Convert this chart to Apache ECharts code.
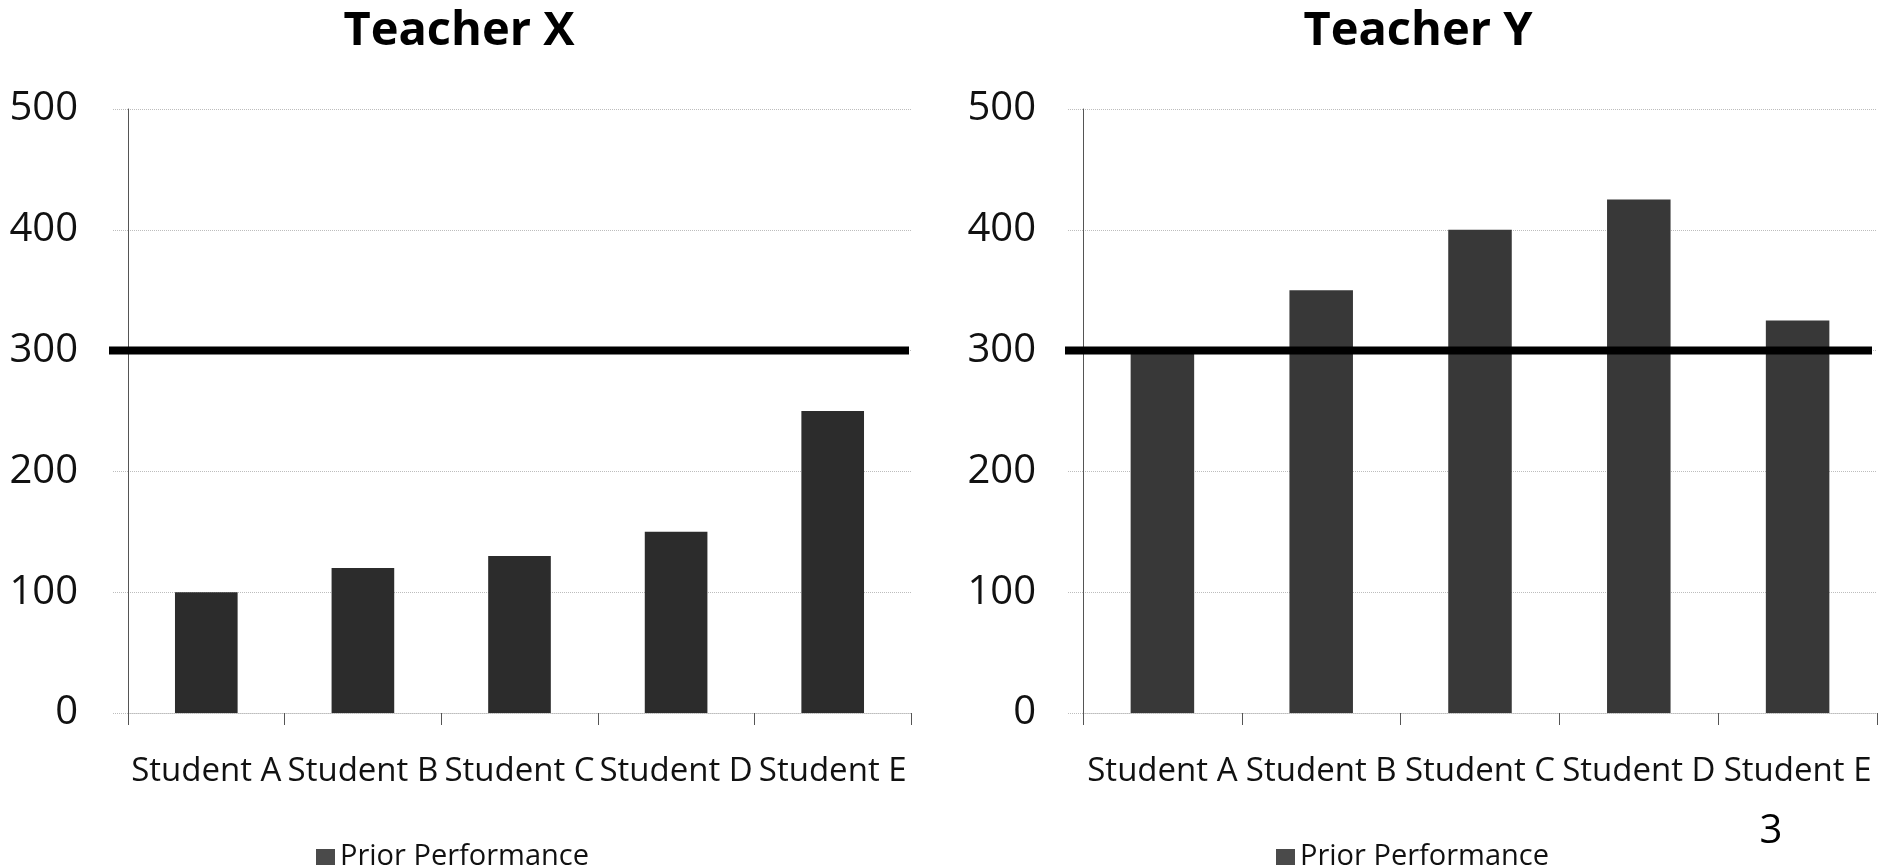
<!DOCTYPE html>
<html>
<head>
<meta charset="utf-8">
<title>Prior Performance by Teacher</title>
<script src="https://cdn.jsdelivr.net/npm/echarts@6/dist/echarts.min.js"></script>
<style>
  html, body { margin: 0; padding: 0; background: #ffffff; }
  #chart { width: 1879px; height: 866px; }
</style>
</head>
<body>
<div id="chart"></div>
<script>
// Student categories shared by both panels
const categories = ['Student A', 'Student B', 'Student C', 'Student D', 'Student E'];

// Prior performance scores per teacher
const teacherXScores = [100, 120, 130, 150, 250];
const teacherYScores = [300, 350, 400, 425, 325];

// Benchmark score drawn as a heavy horizontal rule in each panel
const benchmarkScore = 300;

// Value axis range and step (ticks 0, 100, ... 500)
const yMin = 0;
const yMax = 500;
const yStep = 100;

const panelTitles = ['Teacher X', 'Teacher Y'];
const seriesName = 'Prior Performance';
const pageNumber = '3';

const FONT = '"Open Sans", "Noto Sans", sans-serif';

const chart = echarts.init(document.getElementById('chart'), null, { renderer: 'canvas' });

function valueAxis(gridIndex, margin, visible) {
  return {
    type: 'value',
    gridIndex: gridIndex,
    min: yMin,
    max: yMax,
    interval: yStep,
    show: visible,
    axisLine: { show: true, lineStyle: { color: '#555', width: 1 } },
    axisTick: { show: true, length: 15, lineStyle: { color: '#bdbdbd', type: 'dotted' } },
    axisLabel: { margin: margin, color: '#111', fontFamily: FONT, fontSize: 40 },
    splitLine: { show: true, lineStyle: { color: '#bdbdbd', type: 'dotted', width: 1 } }
  };
}

function categoryAxis(gridIndex) {
  return {
    type: 'category',
    gridIndex: gridIndex,
    data: categories,
    axisLine: { show: true, lineStyle: { color: '#bdbdbd', type: 'dotted' } },
    axisTick: { show: true, length: 12, lineStyle: { color: '#555' } },
    axisLabel: { interval: 0, margin: 42, color: '#111', fontFamily: FONT, fontSize: 33 }
  };
}

// Hidden axes for the benchmark rule, which runs a little past the plot's left edge
function ruleXAxis(gridIndex) {
  return { type: 'value', gridIndex: gridIndex, min: 0, max: 1, show: false };
}

function legendAt(left) {
  return {
    left: left, top: 837,
    itemWidth: 19, itemHeight: 16, itemGap: 10,
    selectedMode: false,
    textStyle: { fontFamily: FONT, fontSize: 29, color: '#111', lineHeight: 30 },
    data: [{ name: seriesName, icon: 'rect', itemStyle: { color: '#4a4a4a' } }]
  };
}

const option = {
  backgroundColor: '#ffffff',
  animation: false,
  graphic: [
    {
      type: 'text', x: 459, y: 8,
      style: { text: panelTitles[0], fill: '#000', font: 'bold 47px ' + FONT, textAlign: 'center', textVerticalAlign: 'top' }
    },
    {
      type: 'text', x: 1418, y: 8,
      style: { text: panelTitles[1], fill: '#000', font: 'bold 47px ' + FONT, textAlign: 'center', textVerticalAlign: 'top' }
    },
    {
      type: 'text', x: 1771, y: 812,
      style: { text: pageNumber, fill: '#000', font: '40px ' + FONT, textAlign: 'center', textVerticalAlign: 'top' }
    }
  ],
  legend: [legendAt(311), legendAt(1271)],
  grid: [
    { left: 128, top: 109, width: 783, height: 604, containLabel: false },
    { left: 1083, top: 109, width: 794, height: 604, containLabel: false },
    { left: 109, top: 109, width: 800, height: 604, containLabel: false },
    { left: 1065, top: 109, width: 807, height: 604, containLabel: false }
  ],
  xAxis: [
    categoryAxis(0),
    categoryAxis(1),
    ruleXAxis(2),
    ruleXAxis(3)
  ],
  yAxis: [
    valueAxis(0, 50, true),
    valueAxis(1, 47, true),
    valueAxis(2, 0, false),
    valueAxis(3, 0, false)
  ],
  series: [
    {
      name: seriesName,
      type: 'bar',
      xAxisIndex: 0, yAxisIndex: 0,
      data: teacherXScores,
      barWidth: '40%',
      itemStyle: { color: '#2c2c2c' },
      z: 2
    },
    {
      name: seriesName,
      type: 'bar',
      xAxisIndex: 1, yAxisIndex: 1,
      data: teacherYScores,
      barWidth: '40%',
      itemStyle: { color: '#383838' },
      z: 2
    },
    {
      name: 'Benchmark X',
      type: 'line',
      xAxisIndex: 2, yAxisIndex: 2,
      data: [[0, benchmarkScore], [1, benchmarkScore]],
      symbol: 'none',
      lineStyle: { color: '#000', width: 8 },
      silent: true,
      z: 5
    },
    {
      name: 'Benchmark Y',
      type: 'line',
      xAxisIndex: 3, yAxisIndex: 3,
      data: [[0, benchmarkScore], [1, benchmarkScore]],
      symbol: 'none',
      lineStyle: { color: '#000', width: 8 },
      silent: true,
      z: 5
    }
  ]
};

chart.setOption(option);
</script>
</body>
</html>
